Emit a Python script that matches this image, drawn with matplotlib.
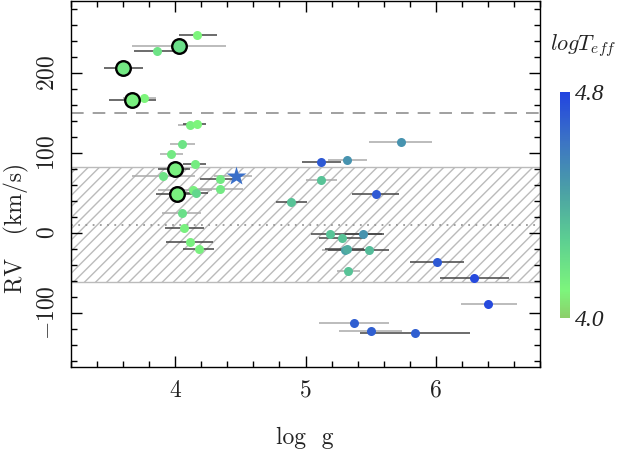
import numpy as np
import matplotlib
matplotlib.use("Agg")
import matplotlib.pyplot as plt
from matplotlib.colors import LinearSegmentedColormap, Normalize
from matplotlib.cm import ScalarMappable
from matplotlib.ticker import MultipleLocator

plt.rcParams["font.family"] = "cmr10"
plt.rcParams["mathtext.fontset"] = "cm"
plt.rcParams["axes.formatter.use_mathtext"] = True

# Data: log g, RV, log g error-bar extent, log Teff
logg    = [4.17, 4.03, 3.86, 3.60, 3.67, 3.76, 4.11, 4.17, 4.05, 3.97, 4.15, 3.995, 3.91,
           4.34, 4.34, 4.01, 4.14, 4.16, 4.05, 4.07, 4.11, 4.18,
           5.73, 5.32, 5.12, 5.12, 5.54, 4.89, 5.19, 5.44, 5.28, 5.30, 5.32, 5.49, 5.33,
           6.01, 6.29, 6.40, 5.37, 5.50, 5.84]
rv      = [248, 234, 228, 206.5, 166, 168, 134.5, 136, 110.6, 98.5, 86.5, 80, 71,
           67.5, 54.5, 49, 53, 50, 25, 6.5, -12, -20,
           114, 91, 88, 66, 49, 38, -1, -1, -6.5, -21, -20, -22, -48,
           -37, -57, -89, -113, -123, -126]
logg_lo = [4.03, 3.67, 3.68, 3.45, 3.49, 3.60, 4.02, 4.06, 3.96, 3.88, 4.06, 3.87, 3.67,
           4.19, 4.16, 3.85, 3.87, 3.95, 3.90, 3.92, 3.93, 4.06,
           5.49, 5.17, 4.97, 5.00, 5.36, 4.77, 5.04, 5.30, 5.10, 5.13, 5.15, 5.17, 5.24,
           5.80, 6.03, 6.19, 5.10, 5.26, 5.42]
logg_hi = [4.32, 4.39, 4.04, 3.75, 3.85, 3.85, 4.20, 4.24, 4.15, 4.06, 4.24, 4.11, 4.15,
           4.45, 4.52, 4.15, 4.28, 4.25, 4.20, 4.22, 4.29, 4.30,
           5.97, 5.47, 5.27, 5.24, 5.72, 5.01, 5.59, 5.60, 5.46, 5.48, 5.45, 5.64, 5.42,
           6.22, 6.56, 6.62, 5.64, 5.74, 6.26]
logteff = [4.10, 4.20, 4.18, 4.15, 4.12, 4.10, 4.12, 4.10, 4.18, 4.15, 4.14, 4.12, 4.18,
           4.15, 4.15, 4.12, 4.12, 4.24, 4.20, 4.12, 4.12, 4.12,
           4.50, 4.50, 4.72, 4.32, 4.72, 4.32, 4.32, 4.50, 4.32, 4.45, 4.40, 4.35, 4.32,
           4.72, 4.78, 4.78, 4.70, 4.70, 4.70]
light_err = [0, 1, 0, 0, 0, 1, 1, 0, 1, 1, 0, 0, 1,
             0, 1, 0, 1, 0, 1, 0, 0, 0,
             1, 1, 0, 1, 0, 0, 0, 0, 0, 1, 0, 0, 1,
             0, 0, 1, 1, 1, 0]
circled = [0, 1, 0, 1, 1, 0, 0, 0, 0, 0, 0, 1, 0,
           0, 0, 1, 0, 0, 0, 0, 0, 0,
           0, 0, 0, 0, 0, 0, 0, 0, 0, 0, 0, 0, 0,
           0, 0, 0, 0, 0, 0]

# the star
star_logg, star_rv, star_lo, star_hi = 4.47, 71, 4.30, 4.59

rv_dashed = 150
rv_dotted = 10
band_lo, band_hi = -62, 82

cmap = LinearSegmentedColormap.from_list(
    "teff", [(0.0, "#8ccf6a"), (0.12, "#7df57c"), (0.35, "#5cce92"),
             (0.55, "#4ca3a4"), (0.78, "#3c74c4"), (1.0, "#2244e0")])
norm = Normalize(4.0, 4.8)

fig = plt.figure(figsize=(6.21, 4.5), dpi=100)
ax = fig.add_axes([71/621, 1-367/450, 469/621, 366/450])

ax.axhspan(band_lo, band_hi, facecolor="none", edgecolor="#bbbbbb",
           hatch="///", lw=1.0, zorder=0)
ax.axhline(rv_dotted, color="#999999", ls=(0, (1, 3)), lw=1.3, zorder=0)
ax.axhline(rv_dashed, color="#999999", ls=(0, (7, 5)), lw=1.3, zorder=0)

logg = np.array(logg); rv = np.array(rv)
xerr = np.array([logg - np.array(logg_lo), np.array(logg_hi) - logg])
for i in range(len(logg)):
    ec = "#aaaaaa" if light_err[i] else "#444444"
    ax.errorbar(logg[i], rv[i], xerr=xerr[:, i:i+1], fmt="none",
                ecolor=ec, elinewidth=1.1, capsize=0, zorder=1)
ax.errorbar(star_logg, star_rv, xerr=[[star_logg-star_lo], [star_hi-star_logg]],
            fmt="none", ecolor="#aaaaaa", elinewidth=1.1, zorder=1)

colors = cmap(norm(np.array(logteff)))
for i in range(len(logg)):
    if circled[i]:
        ax.plot(logg[i], rv[i], "o", ms=10.5, mfc=colors[i], mec="black",
                mew=1.7, zorder=3)
    else:
        ax.plot(logg[i], rv[i], "o", ms=6.5, mfc=colors[i], mec="none", zorder=2)
ax.plot(star_logg, star_rv, "*", ms=15, color="#3a6fc8", mec="none", zorder=3)

ax.set_xlim(3.2, 6.8)
ax.set_ylim(-168, 290)
ax.xaxis.set_major_locator(MultipleLocator(1))
ax.xaxis.set_minor_locator(MultipleLocator(0.2))
ax.yaxis.set_major_locator(MultipleLocator(100))
ax.yaxis.set_minor_locator(MultipleLocator(20))
ax.tick_params(which="both", direction="in", top=True, right=True,
               labelsize=17, width=1, labelcolor="#222222")
ax.tick_params(which="major", length=8)
ax.tick_params(which="minor", length=4.5)
ax.tick_params(axis="x", pad=9)
ax.tick_params(axis="y", pad=9)
for lab in ax.get_yticklabels():
    lab.set_rotation(90)
    lab.set_va("center")
for s in ax.spines.values():
    s.set_linewidth(1)

fig.text(305/621, 1-438/450, "log  g", ha="center", va="center", fontsize=17,
         color="#222222")
fig.text(16/621, 1-228/450, "RV   (km/s)", ha="center", va="center",
         rotation=90, fontsize=17, color="#222222")

# colour bar
cax = fig.add_axes([560/621, 1-318/450, 9.5/621, 226/450])
cb = fig.colorbar(ScalarMappable(norm=norm, cmap=cmap), cax=cax)
cb.outline.set_visible(False)
cb.set_ticks([4.0, 4.8])
cb.set_ticklabels(["4.0", "4.8"])
cax.tick_params(length=0, pad=4)
for lab in cax.get_yticklabels():
    lab.set_fontfamily("Liberation Serif")
    lab.set_fontstyle("italic")
    lab.set_fontsize(17)
    lab.set_color("#222222")
fig.text(583/621, 1-46/450, r"$logT_{eff}$", ha="center", va="center",
         fontsize=16, color="#222222")

fig.savefig("out.png", dpi=100)
